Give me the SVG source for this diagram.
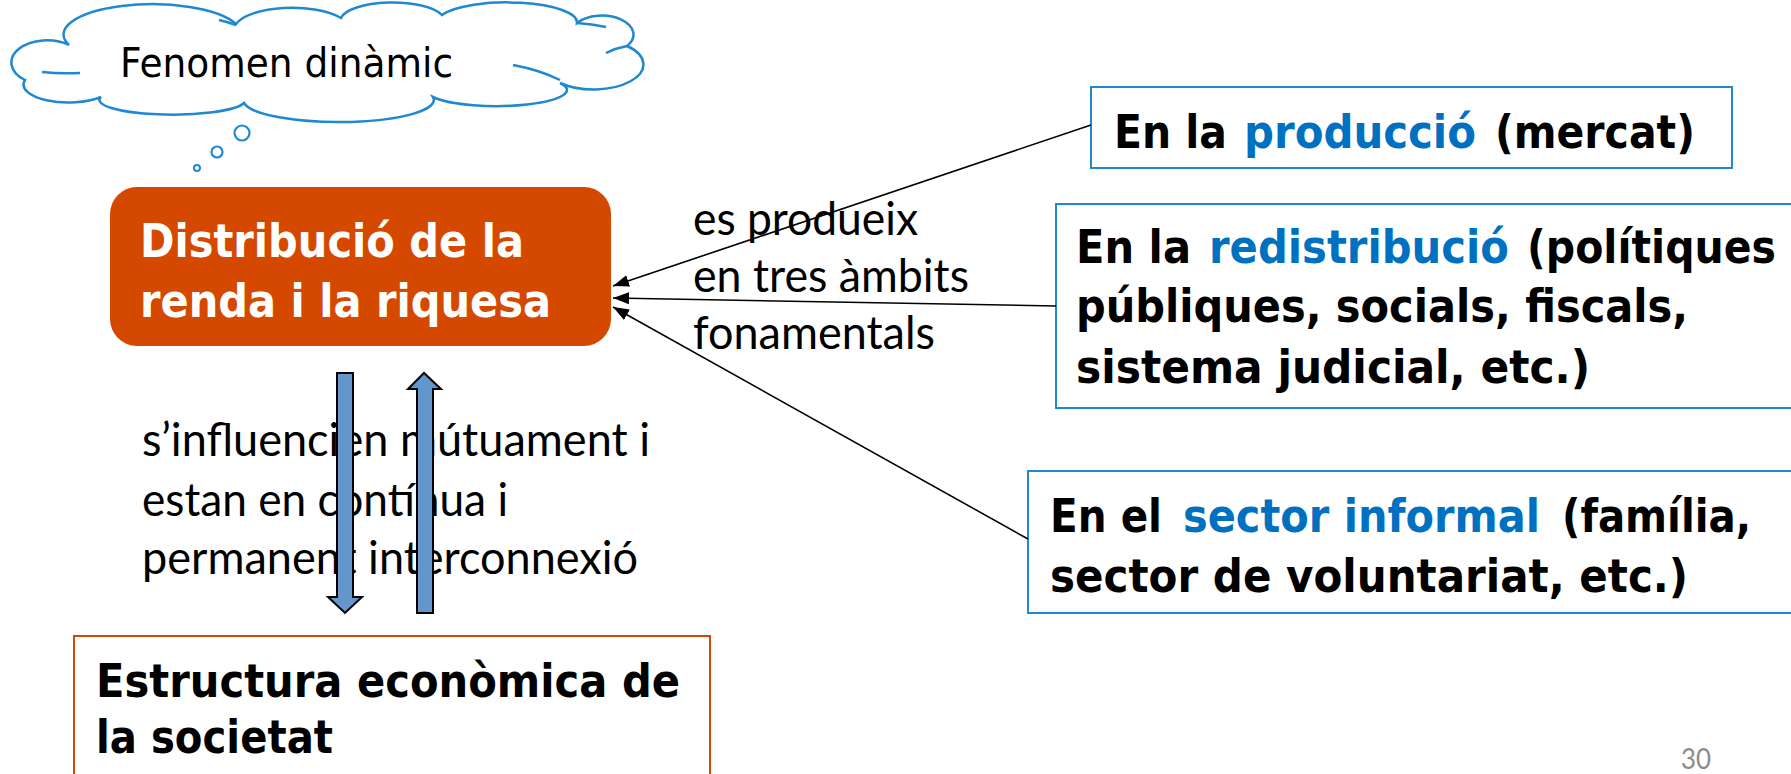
<svg xmlns="http://www.w3.org/2000/svg" width="1791" height="774" viewBox="0 0 1791 774">
  <style>
    .tah { font-family: "DejaVu Sans", "Liberation Sans", sans-serif; }
    .bold { font-weight: bold; font-size: 47px; fill: #000; }
    .white { fill: #fff; }
    .cal { font-family: Lato, "Liberation Sans", sans-serif; font-size: 46px; fill: #000; }
    .blue { fill: #0070C0; }
    .bluebox { fill: #fff; stroke: #2389CF; stroke-width: 2; }
    .conn { stroke: #000; stroke-width: 1.6; fill: none; marker-end: url(#ah); }
    .block { fill: #6396CB; stroke: #000; stroke-width: 2; }
    .cloud { fill: #fff; stroke: #1E88D0; stroke-width: 2.5; }
    .pnum { font-family: Lato, "Liberation Sans", sans-serif; font-size: 28px; fill: #8C8C8C; }
  </style>
  <defs>
    <marker id="ah" markerWidth="16" markerHeight="12" refX="16" refY="6" orient="auto" markerUnits="userSpaceOnUse">
      <path d="M0,0 L16,6 L0,12 z" fill="#000"/>
    </marker>
  </defs>
  <rect width="1791" height="774" fill="#fff"/>

  <g id="cloud">
    <path class="cloud" d="M 69,45 A 88,30 0 0 1 236,24 A 58,22 0 0 1 341,18 A 52,18 0 0 1 442,15 A 70,20 0 0 1 577,23 A 30,18 0 0 1 627,46 A 40,20 0 0 1 560,83 A 70,16 0 0 1 433,97 A 95,22 0 0 1 244,103 A 70,14 0 0 1 101,97 A 45,18 0 0 1 25,80 A 32,20 0 0 1 69,45 Z"/>
    <path d="M 42,72 Q 60,74 80,73 M 513,65 Q 540,70 560,80 M 577,23 Q 592,24 606,27 M 606,53 Q 616,48 627,46 M 219,20 Q 228,22 236,25" fill="none" stroke="#1E88D0" stroke-width="2.5"/>
    <text class="tah" x="120" y="77" font-size="41" textLength="333" lengthAdjust="spacingAndGlyphs" fill="#000">Fenomen dinàmic</text>
    <circle cx="242" cy="133" r="7.5" fill="#fff" stroke="#1E88D0" stroke-width="2.2"/>
    <circle cx="217" cy="152" r="5.5" fill="#fff" stroke="#1E88D0" stroke-width="2.2"/>
    <circle cx="197" cy="168" r="3" fill="#fff" stroke="#1E88D0" stroke-width="2"/>
  </g>

  <g id="distribucio">
    <rect x="110" y="187" width="501" height="159" rx="27" ry="27" fill="#D54800"/>
    <text class="tah bold white" x="140" y="257" textLength="384" lengthAdjust="spacingAndGlyphs">Distribució de la</text>
    <text class="tah bold white" x="140" y="317" textLength="411" lengthAdjust="spacingAndGlyphs">renda i la riquesa</text>
  </g>

  <g id="produeix-label">
    <text class="cal" x="693" y="235" textLength="225" lengthAdjust="spacingAndGlyphs">es produeix</text>
    <text class="cal" x="693" y="292" textLength="276" lengthAdjust="spacingAndGlyphs">en tres àmbits</text>
    <text class="cal" x="693" y="349" textLength="242" lengthAdjust="spacingAndGlyphs">fonamentals</text>
  </g>

  <g id="produccio">
    <rect class="bluebox" x="1091" y="87" width="641" height="81"/>
    <text class="tah bold" x="1114" y="148" textLength="113" lengthAdjust="spacingAndGlyphs">En la</text>
    <text class="tah bold blue" x="1244" y="148" textLength="232" lengthAdjust="spacingAndGlyphs">producció</text>
    <text class="tah bold" x="1495" y="148" textLength="200" lengthAdjust="spacingAndGlyphs">(mercat)</text>
  </g>

  <g id="redistribucio">
    <rect class="bluebox" x="1056" y="204" width="760" height="204"/>
    <text class="tah bold" x="1076" y="263" textLength="115" lengthAdjust="spacingAndGlyphs">En la</text>
    <text class="tah bold blue" x="1209" y="263" textLength="300" lengthAdjust="spacingAndGlyphs">redistribució</text>
    <text class="tah bold" x="1527" y="263" textLength="249" lengthAdjust="spacingAndGlyphs">(polítiques</text>
    <text class="tah bold" x="1076" y="322" textLength="612" lengthAdjust="spacingAndGlyphs">públiques, socials, fiscals,</text>
    <text class="tah bold" x="1076" y="383" textLength="514" lengthAdjust="spacingAndGlyphs">sistema judicial, etc.)</text>
  </g>

  <g id="informal">
    <rect class="bluebox" x="1028" y="471" width="790" height="142"/>
    <text class="tah bold" x="1050" y="532" textLength="112" lengthAdjust="spacingAndGlyphs">En el</text>
    <text class="tah bold blue" x="1183" y="532" textLength="357" lengthAdjust="spacingAndGlyphs">sector informal</text>
    <text class="tah bold" x="1562" y="532" textLength="189" lengthAdjust="spacingAndGlyphs">(família,</text>
    <text class="tah bold" x="1050" y="592" textLength="638" lengthAdjust="spacingAndGlyphs">sector de voluntariat, etc.)</text>
  </g>

  <g id="influencien-label">
    <text class="cal" x="142" y="456" textLength="508" lengthAdjust="spacingAndGlyphs">s’influencien mútuament i</text>
    <text class="cal" x="142" y="516" textLength="366" lengthAdjust="spacingAndGlyphs">estan en contínua i</text>
    <text class="cal" x="142" y="574" textLength="496" lengthAdjust="spacingAndGlyphs">permanent interconnexió</text>
  </g>

  <g id="estructura">
    <rect x="74" y="636" width="636" height="160" fill="#fff" stroke="#D54800" stroke-width="2"/>
    <text class="tah bold" x="96" y="697" textLength="584" lengthAdjust="spacingAndGlyphs">Estructura econòmica de</text>
    <text class="tah bold" x="96" y="753" textLength="237" lengthAdjust="spacingAndGlyphs">la societat</text>
  </g>

  <g id="connectors">
    <line class="conn" x1="1091" y1="125" x2="613" y2="286"/>
    <line class="conn" x1="1056" y1="306" x2="613" y2="298"/>
    <line class="conn" x1="1028" y1="539" x2="613" y2="307"/>
    <polygon class="block" points="337,373 353,373 353,597 362,597 345,613 328,597 337,597"/>
    <polygon class="block" points="417,613 433,613 433,389 441,389 424,373 408,389 417,389"/>
  </g>

  <g id="page-number">
    <text class="pnum" x="1681" y="769" textLength="30" lengthAdjust="spacingAndGlyphs">30</text>
  </g>
</svg>
